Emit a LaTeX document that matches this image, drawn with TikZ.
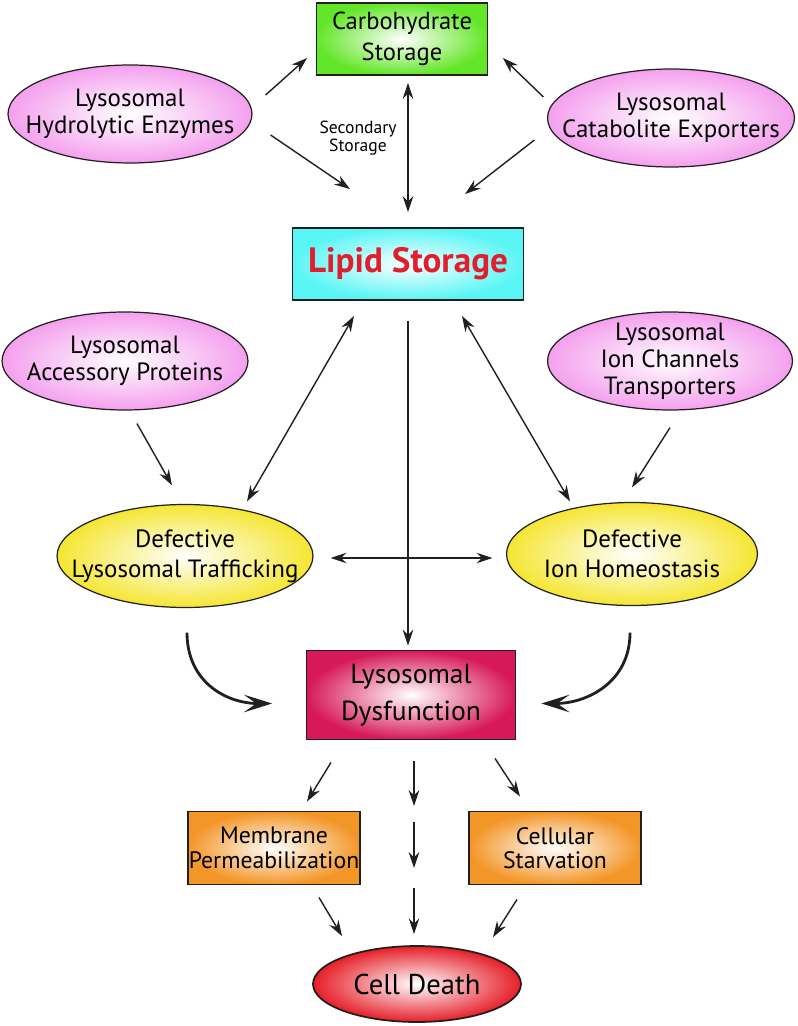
\documentclass[tikz,border=0pt]{standalone}
\usepackage{fontspec}
\setmainfont{PT Sans}
\usepackage{tikz}
\usetikzlibrary{shapes.geometric, arrows.meta, positioning, calc}
\definecolor{linecolor}{RGB}{35, 31, 32}
\definecolor{pinkcolor}{RGB}{244, 160, 238}
\definecolor{yellowcolor}{RGB}{245, 230, 50}
\definecolor{cyancolor}{RGB}{90, 245, 245}
\definecolor{greencolor}{RGB}{100, 230, 40}
\definecolor{orangecolor}{RGB}{243, 150, 40}
\definecolor{dyscolor}{RGB}{215, 25, 90}
\definecolor{deathcolor}{RGB}{230, 30, 40}
\definecolor{lipidtext}{RGB}{225, 30, 45}

\tikzset{
    box/.style={draw=linecolor, line width=1.1pt, rectangle, inner color=white, inner sep=0pt, align=center},
    blob/.style={draw=linecolor, line width=0.7pt, ellipse, inner color=white, inner sep=0pt},
    lbl/.style={align=center, font=\fontsize{14.2}{15.5}\selectfont},
    arr/.style={-{Stealth[length=9pt, width=6pt, inset=3pt]}, line width=0.8pt, draw=linecolor},
    darr/.style={{Stealth[length=9pt, width=6pt, inset=3pt]}-{Stealth[length=9pt, width=6pt, inset=3pt]}, line width=0.8pt, draw=linecolor},
    curvearr/.style={-{Stealth[length=16pt, width=10pt, inset=7pt]}, line width=1.6pt, draw=linecolor}
}

\begin{document}
\begin{tikzpicture}[x=0.02cm, y=0.02cm]
    \useasboundingbox (0, 0) rectangle (797, -1026);

    % Top row
    \node[box, outer color=greencolor, minimum width=3.42cm, minimum height=1.44cm, font=\fontsize{14}{18}\selectfont] (carb) at (402, -39) {Carbohydrate\\Storage};
    \node[blob, outer color=pinkcolor, minimum width=4.88cm, minimum height=1.96cm] (hydro) at (130, -114) {};
    \node[lbl] (hydrotxt) at (hydro) {Lysosomal\\Hydrolytic Enzymes};
    \node[blob, outer color=pinkcolor, minimum width=4.94cm, minimum height=1.96cm] (catab) at (671, -118) {};
    \node[lbl] (catabtxt) at (catab) {Lysosomal\\Catabolite Exporters};
    \node[align=center, font=\fontsize{10}{10.5}\selectfont] (sec) at (358, -138) {Secondary\\Storage};

    % Lipid storage
    \node[box, outer color=cyancolor, minimum width=4.62cm, minimum height=1.44cm, font=\fontsize{20}{22}\selectfont\bfseries, text=lipidtext] (lipid) at (408, -264) {Lipid Storage};

    % Second row
    \node[blob, outer color=pinkcolor, minimum width=4.92cm, minimum height=1.96cm] (acc) at (125, -361) {};
    \node[lbl] (acctxt) at (acc) {Lysosomal\\Accessory Proteins};
    \node[blob, outer color=pinkcolor, minimum width=4.9cm, minimum height=1.96cm] (ionch) at (670, -361) {};
    \node[lbl] (ionchtxt) at (ionch) {Lysosomal\\Ion Channels\\Transporters};

    % Defects
    \node[blob, outer color=yellowcolor, minimum width=5.12cm, minimum height=2.06cm] (traf) at (185, -556) {};
    \node[lbl, font=\fontsize{14.2}{17}\selectfont] (traftxt) at (traf) {Defective\\Lysosomal Trafficking};
    \node[blob, outer color=yellowcolor, minimum width=5.02cm, minimum height=2.06cm] (homeo) at (632, -554) {};
    \node[lbl, font=\fontsize{14.2}{17}\selectfont] (homeotxt) at (homeo) {Defective\\Ion Homeostasis};

    % Dysfunction and outcomes
    \node[box, outer color=dyscolor, minimum width=4.18cm, minimum height=1.78cm, font=\fontsize{15.7}{21}\selectfont] (dys) at (411, -695) {Lysosomal\\Dysfunction};
    \node[box, outer color=orangecolor, minimum width=3.44cm, minimum height=1.46cm, font=\fontsize{13.5}{14}\selectfont] (memb) at (274, -848) {Membrane\\Permeabilization};
    \node[box, outer color=orangecolor, minimum width=3.44cm, minimum height=1.46cm, font=\fontsize{13.5}{14}\selectfont] (starv) at (555, -848) {Cellular\\Starvation};
    \node[blob, draw=linecolor, line width=1pt, outer color=deathcolor, minimum width=4.16cm, minimum height=1.52cm] (death) at (417, -984) {};
    \node[font=\fontsize{16.3}{18}\selectfont] (deathtxt) at (death) {Cell Death};

    % Middle column gaps
    \coordinate (midA) at (414, -806);
    \coordinate (midB) at (414, -822);
    \coordinate (midC) at (414, -868);
    \coordinate (midD) at (414, -888);

    % Arrows to storage
    \draw[arr] ([shift={(13, 19)}]hydro.east) -- ([shift={(-8.5, -19)}]carb.west);
    \draw[arr] ([shift={(18, -21)}]hydro.east) -- ([shift={(-58, 38)}]lipid.north);
    \draw[arr] ([shift={(-3.5, 21)}]catab.west) -- ([shift={(14.5, -19)}]carb.east);
    \draw[arr] ([shift={(-12.5, -22)}]catab.west) -- ([shift={(57, 33)}]lipid.north);
    \draw[darr] ([shift={(6, -7)}]carb.south) -- ([shift={(0, 15)}]lipid.north);

    % Lipid storage links
    \draw[darr] ([shift={(-54, -15)}]lipid.south) -- ([shift={(62, 2.5)}]traf.north);
    \draw[darr] ([shift={(54, -15)}]lipid.south) -- ([shift={(-62, 0.5)}]homeo.north);
    \draw[arr] ([shift={(0, -20)}]lipid.south) -- ([shift={(-3, 4)}]dys.north);
    \draw[arr] ([shift={(12, -13)}]acc.south) -- ([shift={(-13, 18.5)}]traf.north);
    \draw[arr] ([shift={(0, -17)}]ionch.south) -- ([shift={(0, 14.5)}]homeo.north);
    \draw[darr] ([shift={(17, -2)}]traf.east) -- ([shift={(-13.5, -4)}]homeo.west);

    % Curved arrows
    \draw[curvearr] ([shift={(2, -24.5)}]traf.south) .. controls +(0, -50) and +(-45, 0) .. ([shift={(-33.5, -8.5)}]dys.west);
    \draw[curvearr] ([shift={(-2, -26.5)}]homeo.south) .. controls +(0, -50) and +(45, 0) .. ([shift={(25, -8.5)}]dys.east);

    % Towards cell death
    \draw[arr] ([shift={(-80, -22)}]dys.south) -- ([shift={(33, 9)}]memb.north);
    \draw[arr] ([shift={(3, -21)}]dys.south) -- (midA);
    \draw[arr] ([shift={(84, -18)}]dys.south) -- ([shift={(-35, 14)}]starv.north);
    \draw[arr] (midB) -- (midC);
    \draw[arr] (midD) -- ([shift={(-3, 11)}]death.north);
    \draw[arr] ([shift={(45, -12)}]memb.south) -- ([shift={(-75, 9)}]death.north);
    \draw[arr] ([shift={(-38, -14)}]starv.south) -- ([shift={(76, 8)}]death.north);

\end{tikzpicture}
\end{document}
